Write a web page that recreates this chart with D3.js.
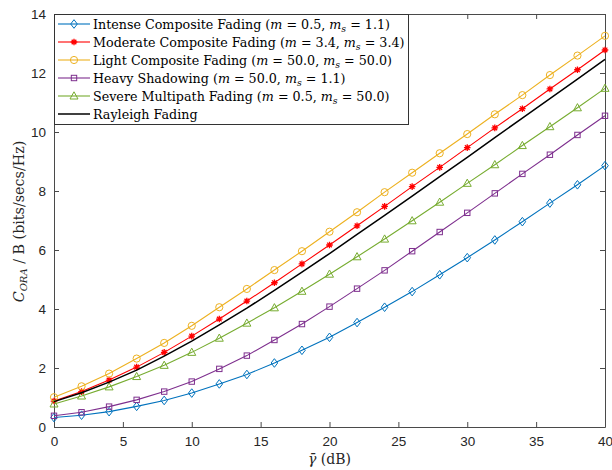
<!DOCTYPE html>
<html>
<head>
<meta charset="utf-8">
<script src="https://cdn.jsdelivr.net/npm/d3@7"></script>
<style>
html,body{margin:0;padding:0;background:#fff;}
svg{display:block;}
</style>
</head>
<body>
<svg id="chart" width="612" height="470"></svg>
<script>
// ---------- data ----------
const snrDb = [0,2,4,6,8,10,12,14,16,18,20,22,24,26,28,30,32,34,36,38,40];
const xTicks = [0,5,10,15,20,25,30,35,40];
const yTicks = [0,2,4,6,8,10,12,14];

const intense   = [0.32,0.40,0.52,0.70,0.90,1.15,1.46,1.78,2.17,2.60,3.04,3.54,4.06,4.59,5.16,5.74,6.34,6.96,7.59,8.21,8.86];
const moderate  = [0.88,1.20,1.59,2.03,2.53,3.08,3.66,4.27,4.89,5.53,6.17,6.82,7.48,8.15,8.80,9.47,10.14,10.79,11.46,12.11,12.78];
const light     = [1.01,1.38,1.81,2.32,2.85,3.43,4.06,4.68,5.32,5.96,6.62,7.28,7.96,8.62,9.28,9.93,10.60,11.25,11.93,12.59,13.26];
const heavy     = [0.38,0.50,0.69,0.92,1.20,1.54,1.97,2.42,2.95,3.49,4.08,4.69,5.31,5.96,6.61,7.26,7.92,8.58,9.23,9.90,10.55];
const severe    = [0.78,1.05,1.36,1.71,2.09,2.53,3.01,3.52,4.04,4.60,5.18,5.77,6.37,6.99,7.62,8.26,8.89,9.54,10.18,10.82,11.48];
const rayleigh  = [0.86,1.16,1.52,1.93,2.40,2.91,3.46,4.03,4.63,5.25,5.88,6.53,7.17,7.83,8.49,9.14,9.81,10.47,11.13,11.79,12.46];

const seriesNames = ["Intense Composite Fading","Moderate Composite Fading","Light Composite Fading","Heavy Shadowing","Severe Multipath Fading","Rayleigh Fading"];
const seriesM  = ["0.5","3.4","50.0","50.0","0.5",null];
const seriesMs = ["1.1","3.4","50.0","1.1","50.0",null];
const seriesColors = ["#0072BD","#FF0000","#EDB120","#7E2F8E","#77AC30","#000000"];
const seriesMarkers = ["diamond","asterisk","circle","square","triangle","none"];
const seriesValues = [intense, moderate, light, heavy, severe, rayleigh];

// ---------- layout ----------
const svg = d3.select("#chart");
const L = 54, R = 605, T = 14, B = 427;
const x = d3.scaleLinear().domain([0,40]).range([L,R]);
const y = d3.scaleLinear().domain([0,14]).range([B,T]);
const axisColor = "#4a4a4a";
const tickFont = "'Liberation Sans', Arial, sans-serif";
const serif = "'DejaVu Serif', 'Liberation Serif', serif";

// axes (ticks inward)
const gx = svg.append("g").attr("transform",`translate(0,${B})`)
  .call(d3.axisBottom(x).tickValues(xTicks).tickSizeInner(-5).tickSizeOuter(0).tickPadding(9));
const gxTop = svg.append("g").attr("transform",`translate(0,${T})`)
  .call(d3.axisTop(x).tickValues(xTicks).tickSizeInner(-5).tickSizeOuter(0).tickFormat(""));
const gy = svg.append("g").attr("transform",`translate(${L},0)`)
  .call(d3.axisLeft(y).tickValues(yTicks).tickSizeInner(-5).tickSizeOuter(0).tickPadding(8));
const gyR = svg.append("g").attr("transform",`translate(${R},0)`)
  .call(d3.axisRight(y).tickValues(yTicks).tickSizeInner(-5).tickSizeOuter(0).tickFormat(""));
[gx,gxTop,gy,gyR].forEach(g=>{
  g.selectAll("path.domain").attr("stroke",axisColor).attr("stroke-width",1);
  g.selectAll(".tick line").attr("stroke",axisColor);
  g.selectAll(".tick text").attr("fill","#262626").style("font-family",tickFont).style("font-size","13.5px");
});

// ---------- markers ----------
function drawMarker(g, type, cx, cy, color){
  if(type==="circle"){
    g.append("circle").attr("cx",cx).attr("cy",cy).attr("r",3.6)
      .attr("fill","none").attr("stroke",color).attr("stroke-width",1);
  } else if(type==="diamond"){
    g.append("path").attr("d",`M${cx},${cy-4.3}L${cx+3.3},${cy}L${cx},${cy+4.3}L${cx-3.3},${cy}Z`)
      .attr("fill","none").attr("stroke",color).attr("stroke-width",1);
  } else if(type==="square"){
    g.append("rect").attr("x",cx-2.7).attr("y",cy-2.7).attr("width",5.4).attr("height",5.4)
      .attr("fill","none").attr("stroke",color).attr("stroke-width",1);
  } else if(type==="triangle"){
    g.append("path").attr("d",`M${cx},${cy-4.2}L${cx+4},${cy+3}L${cx-4},${cy+3}Z`)
      .attr("fill","none").attr("stroke",color).attr("stroke-width",1);
  } else if(type==="asterisk"){
    const r=3.3, d=r*0.707;
    g.append("path").attr("d",
      `M${cx-r},${cy}L${cx+r},${cy}M${cx},${cy-r}L${cx},${cy+r}M${cx-d},${cy-d}L${cx+d},${cy+d}M${cx-d},${cy+d}L${cx+d},${cy-d}`)
      .attr("fill","none").attr("stroke",color).attr("stroke-width",1.3);
  }
}

// ---------- series ----------
const line = d3.line().x((d,i)=>x(snrDb[i])).y(d=>y(d));
const plot = svg.append("g");
seriesValues.forEach((vals,k)=>{
  plot.append("path").datum(vals).attr("d",line)
    .attr("fill","none").attr("stroke",seriesColors[k]).attr("stroke-width",k===5?1.5:1.1);
  if(seriesMarkers[k]!=="none"){
    vals.forEach((v,i)=>drawMarker(plot, seriesMarkers[k], x(snrDb[i]), y(v), seriesColors[k]));
  }
});

// ---------- legend ----------
const lg = svg.append("g");
const lgX = L, lgY = T, lgW = 354, lgH = 110;
lg.append("rect").attr("x",lgX+0.5).attr("y",lgY+0.5).attr("width",lgW).attr("height",lgH)
  .attr("fill","#fff").attr("stroke","#333").attr("stroke-width",1);
seriesNames.forEach((name,k)=>{
  const cy = lgY + 10 + k*18;
  lg.append("line").attr("x1",lgX+4).attr("x2",lgX+36).attr("y1",cy).attr("y2",cy)
    .attr("stroke",seriesColors[k]).attr("stroke-width",k===5?1.5:1.1);
  if(seriesMarkers[k]!=="none") drawMarker(lg, seriesMarkers[k], lgX+20, cy, seriesColors[k]);
  const t = lg.append("text").attr("x",lgX+39).attr("y",cy+4.5)
    .style("font-family",serif).style("font-size","12.7px").attr("fill","#000");
  if(seriesM[k]===null){
    t.text(name);
  } else {
    t.append("tspan").text(name+" (");
    t.append("tspan").attr("font-style","italic").text("m");
    t.append("tspan").text(" = "+seriesM[k]+", ");
    t.append("tspan").attr("font-style","italic").text("m");
    t.append("tspan").attr("font-style","italic").attr("font-size","9.3px").attr("dy",3).text("s");
    t.append("tspan").attr("dy",-3).text(" = "+seriesMs[k]+")");
  }
});

// ---------- axis labels ----------
const xl = svg.append("text").attr("x",(L+R)/2).attr("y",464).attr("text-anchor","middle")
  .style("font-family",serif).style("font-size","14px").attr("fill","#262626");
xl.append("tspan").attr("font-style","italic").text("γ\u0304");
xl.append("tspan").text(" (dB)");

const yl = svg.append("text").attr("transform",`translate(24,${(T+B)/2 + 1}) rotate(-90)`)
  .attr("text-anchor","middle").style("font-family",serif).style("font-size","14.3px").attr("fill","#262626");
yl.append("tspan").attr("font-style","italic").text("C");
yl.append("tspan").attr("font-style","italic").attr("font-size","10px").attr("dy",3).text("ORA");
yl.append("tspan").attr("dy",-3).text(" / B (bits/secs/Hz)");
</script>
</body>
</html>
